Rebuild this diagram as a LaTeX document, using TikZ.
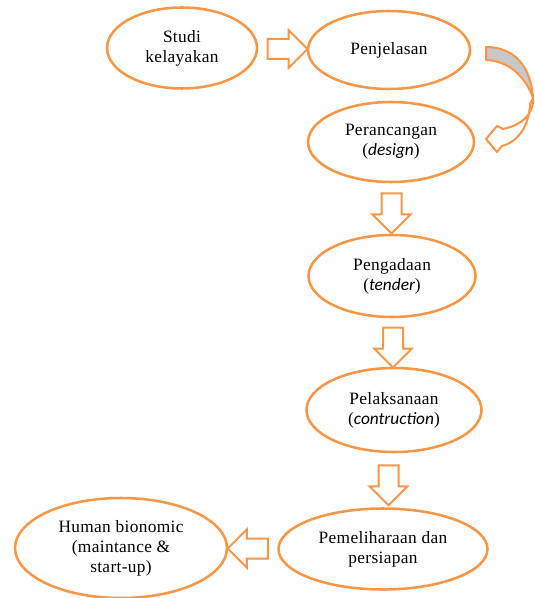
\documentclass[tikz,border=0pt]{standalone}
\usepackage{fontspec}
\setmainfont{Liberation Serif}[LetterSpace=2]
\newfontfamily\calibri{Carlito}
\usepackage{tikz}
\usetikzlibrary{shapes}
\usetikzlibrary{shapes.arrows}
\usetikzlibrary{calc}
\definecolor{orng}{RGB}{247,150,70}
\definecolor{backgray}{RGB}{200,200,200}
\tikzset{
    stage/.style={ellipse, draw=orng, line width=1.9pt, fill=white, align=center, inner sep=0pt, font=\fontsize{13}{15}\selectfont},
    blockarrow/.style={single arrow, draw=orng, line width=1.5pt, fill=white, inner sep=0pt, text width=0pt, text height=13.5pt, text depth=0pt, minimum height=30pt, single arrow head extend=6.75pt}
}
\newcommand{\ital}[1]{({\calibri\itshape #1})}

\begin{document}
\begin{tikzpicture}[x=0.75pt, y=-0.75pt]
                \useasboundingbox (0,0) rectangle (534,598);
                % stages
                \node [stage, minimum width=112.5pt, minimum height=60.75pt] (studi) at (182,48) {Studi\\kelayakan};
                \node [stage, minimum width=121.5pt, minimum height=58.5pt] (jelas) at (389,50) {Penjelasan};
                \node [stage, minimum width=124.5pt, minimum height=60pt] (rancang) at (391,142) {Perancangan\\\ital{design}};
                \node [stage, minimum width=125.25pt, minimum height=61.5pt] (ada) at (392,276) {Pengadaan\\\ital{tender}};
                \node [stage, minimum width=131.25pt, minimum height=63pt] (laksana) at (394,410) {Pelaksanaan\\\ital{contruction}};
                \node [stage, minimum width=156.75pt, minimum height=60.75pt] (pelihara) at (383,549) {Pemeliharaan dan\\persiapan};
                \node [stage, minimum width=159pt, minimum height=75pt] (human) at (121,548) {Human bionomic\\(maintance \&\\start-up)};
                % block arrows
                \node [blockarrow] (a1) at ($(studi.east)!0.5!(jelas.west)$) {};
                \node [blockarrow, rotate=-90] (a2) at ($(rancang.south)!0.5!(ada.north)$) {};
                \node [blockarrow, rotate=-90] (a3) at ($(ada.south)!0.5!(laksana.north)$) {};
                \node [blockarrow, rotate=-90] (a4) at ($(laksana.south)!0.5!(pelihara.north)$) {};
                \node [blockarrow, rotate=180] (a5) at ($(pelihara.west)!0.5!(human.east)$) {};
                % curved arrow
                \draw [orng, line width=1.5pt, fill=backgray, line join=round]
                    (486,47) .. controls (514,47) and (531,66) .. (533,98)
                    .. controls (526,78) and (510,61) .. (486,60) -- cycle;
                \draw [orng, line width=1.5pt, fill=white, line join=round]
                    (533,98) .. controls (534,114) and (522,125) .. (503,129)
                    -- (497,126) -- (486,139) -- (497,152) -- (502,146)
                    .. controls (520,141) and (529,124) .. (530,104) -- cycle;
\end{tikzpicture}
\end{document}
